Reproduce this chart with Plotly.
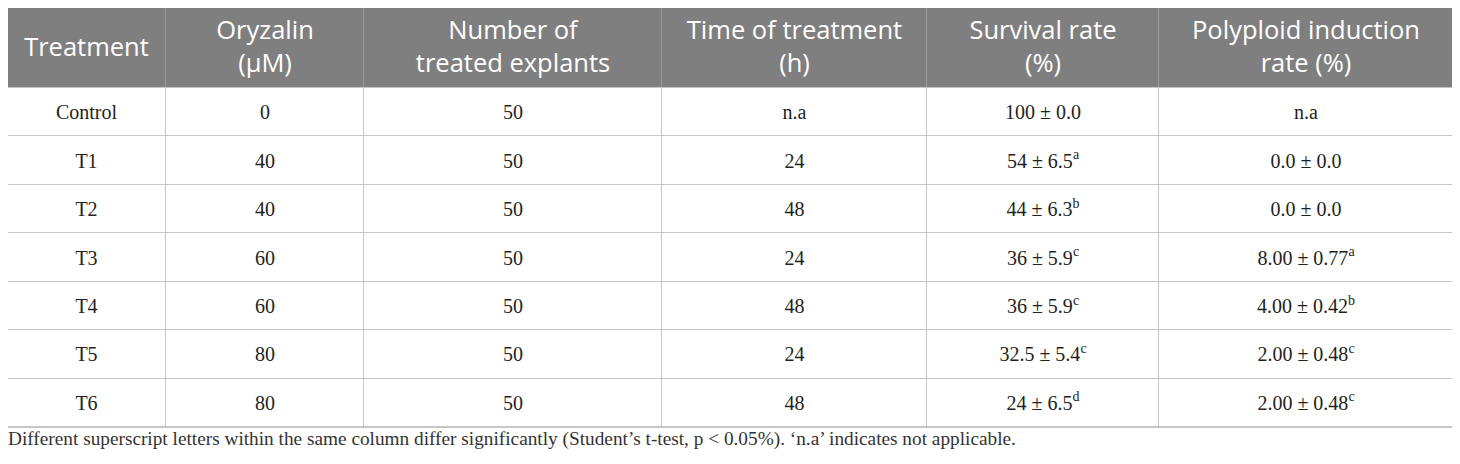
import numpy as np
import plotly.graph_objects as go

W, H = 1460, 464
PAGE = 8  # default body margin of the page the figure is written into

# ---- data ----
headers = ["Treatment", "Oryzalin<br>(µM)", "Number of<br>treated explants",
           "Time of treatment<br>(h)", "Survival rate<br>(%)", "Polyploid induction<br>rate (%)"]
treatment = ["Control", "T1", "T2", "T3", "T4", "T5", "T6"]
oryzalin = ["0", "40", "40", "60", "60", "80", "80"]
explants = ["50", "50", "50", "50", "50", "50", "50"]
time_h = ["n.a", "24", "48", "24", "48", "24", "48"]
survival = ["100 ± 0.0", "54 ± 6.5<sup>a</sup>", "44 ± 6.3<sup>b</sup>", "36 ± 5.9<sup>c</sup>",
            "36 ± 5.9<sup>c</sup>", "32.5 ± 5.4<sup>c</sup>", "24 ± 6.5<sup>d</sup>"]
polyploid = ["n.a", "0.0 ± 0.0", "0.0 ± 0.0", "8.00 ± 0.77<sup>a</sup>", "4.00 ± 0.42<sup>b</sup>",
             "2.00 ± 0.48<sup>c</sup>", "2.00 ± 0.48<sup>c</sup>"]
footnote = ("Different superscript letters within the same column differ significantly "
            "(Student’s t-test, p < 0.05%). ‘n.a’ indicates not applicable.")

columns = [treatment, oryzalin, explants, time_h, survival, polyploid]

# ---- layout (pixel units of the picture) ----
col_widths = [159, 198, 298, 265, 232, 294]
left, top = 7, 7
header_h = 81
row_h = 48.43
n_rows = len(treatment)

x_edges = left + np.concatenate([[0], np.cumsum(col_widths)])
y_edges = np.concatenate([[top], top + header_h + row_h * np.arange(n_rows + 1)])
x_mid = (x_edges[:-1] + x_edges[1:]) / 2
y_mid = (y_edges[:-1] + y_edges[1:]) / 2

# 1 = header fill, 0 = body fill
z = [[1] * len(headers)] + [[0] * len(headers) for _ in range(n_rows)]

fig = go.Figure()

# grid line colours, seen through the heatmap gaps
fig.add_shape(type="rect", layer="below", line_width=0, fillcolor="#c6c6c6",
              x0=x_edges[0] - 1, x1=x_edges[-1] + 1, y0=y_edges[0] - 1, y1=y_edges[-1] + 1)
fig.add_shape(type="rect", layer="below", line_width=0, fillcolor="#9b9b9b",
              x0=x_edges[0] + 1, x1=x_edges[-1] - 1, y0=y_edges[0] + 1, y1=y_edges[1] - 1)

fig.add_trace(go.Heatmap(
    x=x_edges, y=y_edges, z=z, zmin=0, zmax=1,
    colorscale=[[0, "white"], [1, "#7f7f7f"]], showscale=False,
    xgap=1, ygap=1, hoverinfo="skip",
))

# header text
fig.add_trace(go.Scatter(
    x=x_mid, y=[y_mid[0] + 2] * len(headers), text=headers, mode="text",
    textposition="middle center", hoverinfo="skip",
    textfont=dict(family="Open Sans", size=25.5, color="white"),
))

# body text
bx, by, bt = [], [], []
for j, col in enumerate(columns):
    for i, val in enumerate(col):
        bx.append(x_mid[j])
        by.append(y_mid[i + 1] + 2)
        bt.append(val)
fig.add_trace(go.Scatter(
    x=bx, y=by, text=bt, mode="text", textposition="middle center", hoverinfo="skip",
    textfont=dict(family="Liberation Serif", size=20, color="#231f20"),
))

fig.add_annotation(text=footnote, xref="paper", yref="y", x=0, xshift=-2, y=439,
                   xanchor="left", yanchor="middle", showarrow=False,
                   font=dict(family="Liberation Serif", size=19.3, color="#333333"))

fig.update_xaxes(range=[PAGE, W], visible=False, fixedrange=True)
fig.update_yaxes(range=[H, PAGE], visible=False, fixedrange=True)
fig.update_layout(width=W - PAGE, height=H - PAGE, margin=dict(l=0, r=0, t=0, b=0),
                  paper_bgcolor="white", plot_bgcolor="white", showlegend=False)
fig.write_html("out.html")
